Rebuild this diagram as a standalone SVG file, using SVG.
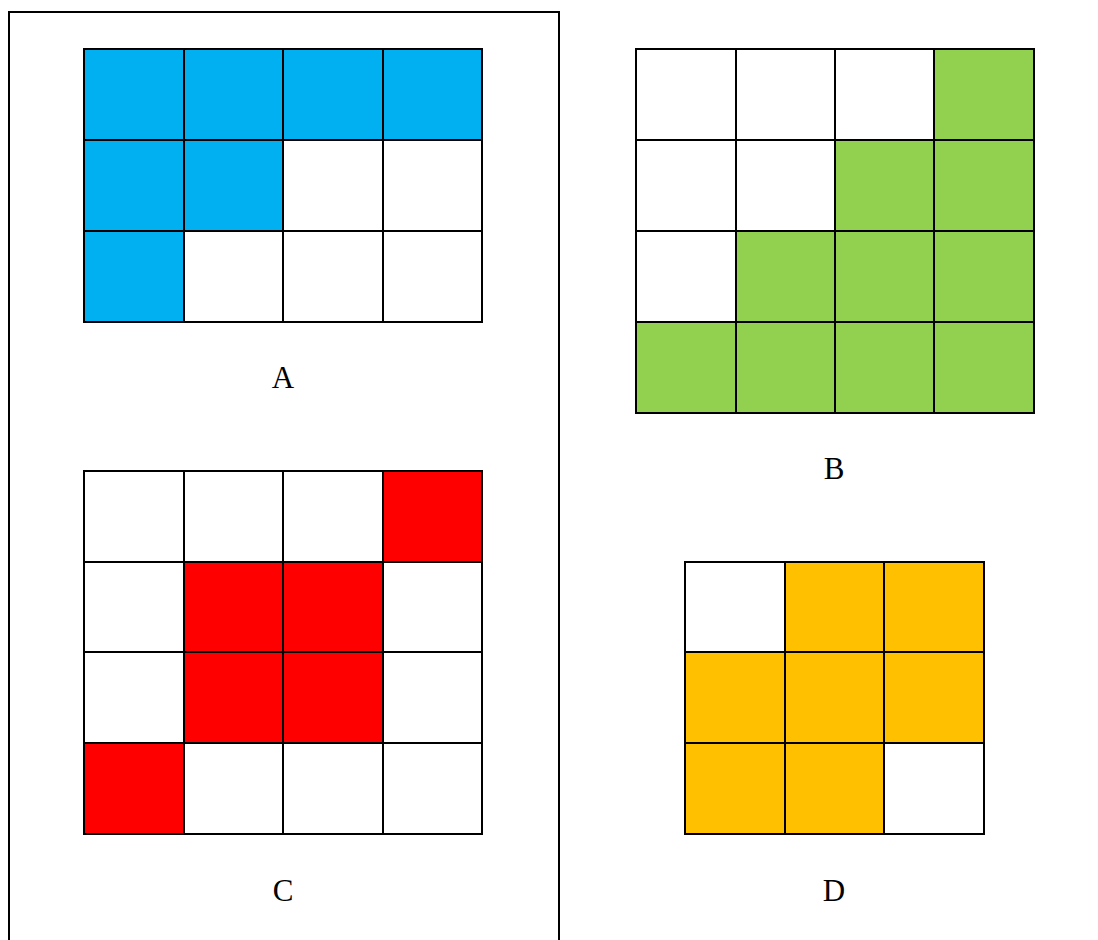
<svg xmlns="http://www.w3.org/2000/svg" width="1098" height="940" viewBox="0 0 1098 940">
<style>
.c{stroke:#000;stroke-width:2;}
.w{fill:#fff}.b{fill:#00B0F0}.g{fill:#92D050}.r{fill:#FF0000}.y{fill:#FFC000}
.t{font-family:"Liberation Serif",serif;font-size:31px;text-anchor:middle;fill:#000}
</style>
<rect x="0" y="0" width="1098" height="940" fill="#fff"/>
<path d="M9 945 V12 H559 V945" fill="none" stroke="#000" stroke-width="2"/>
<g id="A">
<rect class="c b" x="84" y="49" width="100" height="91"/>
<rect class="c b" x="184" y="49" width="99" height="91"/>
<rect class="c b" x="283" y="49" width="100" height="91"/>
<rect class="c b" x="383" y="49" width="99" height="91"/>
<rect class="c b" x="84" y="140" width="100" height="91"/>
<rect class="c b" x="184" y="140" width="99" height="91"/>
<rect class="c w" x="283" y="140" width="100" height="91"/>
<rect class="c w" x="383" y="140" width="99" height="91"/>
<rect class="c b" x="84" y="231" width="100" height="91"/>
<rect class="c w" x="184" y="231" width="99" height="91"/>
<rect class="c w" x="283" y="231" width="100" height="91"/>
<rect class="c w" x="383" y="231" width="99" height="91"/>
<text class="t" x="283" y="388">A</text>
</g>
<g id="B">
<rect class="c w" x="636" y="49" width="100" height="91"/>
<rect class="c w" x="736" y="49" width="99" height="91"/>
<rect class="c w" x="835" y="49" width="99" height="91"/>
<rect class="c g" x="934" y="49" width="100" height="91"/>
<rect class="c w" x="636" y="140" width="100" height="91"/>
<rect class="c w" x="736" y="140" width="99" height="91"/>
<rect class="c g" x="835" y="140" width="99" height="91"/>
<rect class="c g" x="934" y="140" width="100" height="91"/>
<rect class="c w" x="636" y="231" width="100" height="91"/>
<rect class="c g" x="736" y="231" width="99" height="91"/>
<rect class="c g" x="835" y="231" width="99" height="91"/>
<rect class="c g" x="934" y="231" width="100" height="91"/>
<rect class="c g" x="636" y="322" width="100" height="91"/>
<rect class="c g" x="736" y="322" width="99" height="91"/>
<rect class="c g" x="835" y="322" width="99" height="91"/>
<rect class="c g" x="934" y="322" width="100" height="91"/>
<text class="t" x="834" y="479">B</text>
</g>
<g id="C">
<rect class="c w" x="84" y="471" width="100" height="91"/>
<rect class="c w" x="184" y="471" width="99" height="91"/>
<rect class="c w" x="283" y="471" width="100" height="91"/>
<rect class="c r" x="383" y="471" width="99" height="91"/>
<rect class="c w" x="84" y="562" width="100" height="90"/>
<rect class="c r" x="184" y="562" width="99" height="90"/>
<rect class="c r" x="283" y="562" width="100" height="90"/>
<rect class="c w" x="383" y="562" width="99" height="90"/>
<rect class="c w" x="84" y="652" width="100" height="91"/>
<rect class="c r" x="184" y="652" width="99" height="91"/>
<rect class="c r" x="283" y="652" width="100" height="91"/>
<rect class="c w" x="383" y="652" width="99" height="91"/>
<rect class="c r" x="84" y="743" width="100" height="91"/>
<rect class="c w" x="184" y="743" width="99" height="91"/>
<rect class="c w" x="283" y="743" width="100" height="91"/>
<rect class="c w" x="383" y="743" width="99" height="91"/>
<text class="t" x="283" y="901">C</text>
</g>
<g id="D">
<rect class="c w" x="685" y="562" width="100" height="90"/>
<rect class="c y" x="785" y="562" width="99" height="90"/>
<rect class="c y" x="884" y="562" width="100" height="90"/>
<rect class="c y" x="685" y="652" width="100" height="91"/>
<rect class="c y" x="785" y="652" width="99" height="91"/>
<rect class="c y" x="884" y="652" width="100" height="91"/>
<rect class="c y" x="685" y="743" width="100" height="91"/>
<rect class="c y" x="785" y="743" width="99" height="91"/>
<rect class="c w" x="884" y="743" width="100" height="91"/>
<text class="t" x="834" y="901">D</text>
</g>
<g id="connectors"></g>
</svg>
